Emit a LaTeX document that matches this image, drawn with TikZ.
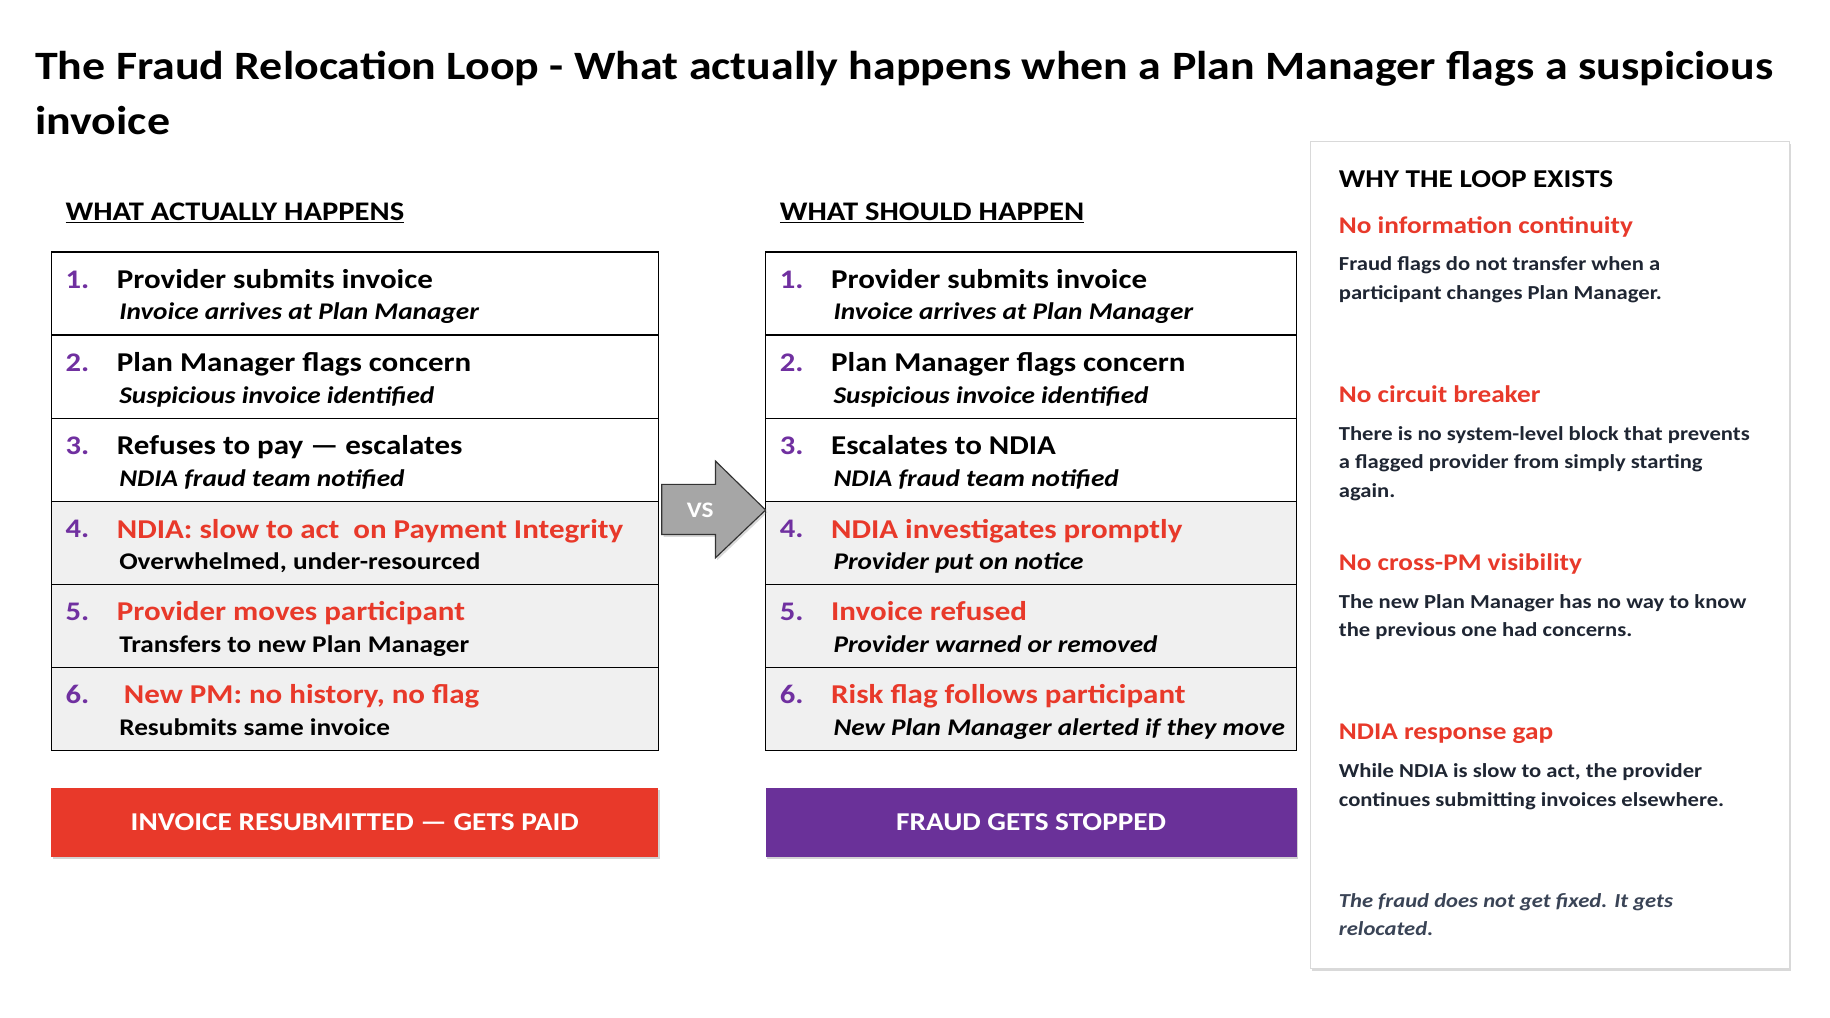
\documentclass[tikz,border=0pt]{standalone}
\usepackage{fontspec}
\setmainfont{Carlito}[FakeStretch=1.14]
\usetikzlibrary{shadows}
\definecolor{pnum}{HTML}{7030A0}
\definecolor{fred}{HTML}{E8392A}
\definecolor{fpur}{HTML}{6A3199}
\definecolor{rowg}{HTML}{F0F0F0}
\definecolor{dtext}{HTML}{1F2633}
\definecolor{itext}{HTML}{3A4456}
\begin{document}
\begin{tikzpicture}[x=1pt,y=-1pt,
  txt/.style={anchor=base west,inner sep=0pt,font=\bfseries},
  num/.style={txt,text=pnum,font=\bfseries\fontsize{23}{26}\selectfont},
  main/.style={txt,font=\bfseries\fontsize{23.3}{28}\selectfont},
  sub/.style={txt,font=\bfseries\itshape\fontsize{20.5}{24}\selectfont},
  subn/.style={txt,font=\bfseries\fontsize{20.5}{24}\selectfont},
  row/.style={draw=black,line width=1.2pt},
  hd/.style={txt,font=\bfseries\fontsize{23}{27}\selectfont},
  rh/.style={txt,text=fred,font=\bfseries\fontsize{20.5}{24}\selectfont},
  body/.style={txt,text=dtext,align=left,font=\bfseries\fontsize{17}{24.5}\selectfont,anchor=north west},
  bar/.style={draw=none,text=white,font=\bfseries\fontsize{22}{26}\selectfont,drop shadow={opacity=0.35,shadow xshift=1.5pt,shadow yshift=-2pt}}]
\useasboundingbox (0,0) rectangle (1568,872);
\node[txt,font=\bfseries\fontsize{34.5}{40}\selectfont] (t1) at (30,68) {The Fraud Relocation Loop - What actually happens when a Plan Manager flags a suspicious};
\node[txt,font=\bfseries\fontsize{34.5}{40}\selectfont] (t2) at (30,115) {invoice};
\node[hd] (h1) at (56,189) {\underline{WHAT ACTUALLY HAPPENS}};
\node[hd] (h2) at (668,189) {\underline{WHAT SHOULD HAPPEN}};
% tables
\foreach \xa/\xb in {44/564,656/1111}{
  \foreach \i in {0,...,5}{
    \pgfmathsetmacro\ya{216+71.2*\i}\pgfmathsetmacro\yb{216+71.2*(\i+1)}
    \ifnum\i>2 \fill[rowg] (\xa,\ya) rectangle (\xb,\yb);\fi
    \draw[row] (\xa,\ya) rectangle (\xb,\yb);
    \pgfmathtruncatemacro\n{\i+1}
    \pgfmathsetmacro\yn{247+71.2*\i}
    \node[num] (n\xa-\n) at (\xa+12,\yn) {\n.};
  }}
% left texts
\node[main] (l1) at (100,247) {Provider submits invoice};
\node[sub] (l1s) at (102,274) {Invoice arrives at Plan Manager};
\node[main] (l2) at (100,318) {Plan Manager flags concern};
\node[sub] (l2s) at (102,346) {Suspicious invoice identified};
\node[main] (l3) at (100,389) {Refuses to pay — escalates};
\node[sub] (l3s) at (102,417) {NDIA fraud team notified};
\node[main,text=fred] (l4) at (100,461) {NDIA: slow to act\ \ on Payment Integrity};
\node[subn] (l4s) at (102,488) {Overwhelmed, under-resourced};
\node[main,text=fred] (l5) at (100,532) {Provider moves participant};
\node[subn] (l5s) at (102,559) {Transfers to new Plan Manager};
\node[main,text=fred] (l6) at (106,603) {New PM: no history, no flag};
\node[subn] (l6s) at (102,630) {Resubmits same invoice};
% right texts
\node[main] (r1) at (712,247) {Provider submits invoice};
\node[sub] (r1s) at (714,274) {Invoice arrives at Plan Manager};
\node[main] (r2) at (712,318) {Plan Manager flags concern};
\node[sub] (r2s) at (714,346) {Suspicious invoice identified};
\node[main] (r3) at (712,389) {Escalates to NDIA};
\node[sub] (r3s) at (714,417) {NDIA fraud team notified};
\node[main,text=fred] (r4) at (712,461) {NDIA investigates promptly};
\node[sub] (r4s) at (714,488) {Provider put on notice};
\node[main,text=fred] (r5) at (712,532) {Invoice refused};
\node[sub] (r5s) at (714,559) {Provider warned or removed};
\node[main,text=fred] (r6) at (712,603) {Risk flag follows participant};
\node[sub] (r6s) at (714,630) {New Plan Manager alerted if they move};
% arrow
\draw[fill=black!35,draw=black!80,line width=1pt,drop shadow={opacity=0.3,shadow xshift=1.5pt,shadow yshift=-2pt}]
  (567,415) -- (613,415) -- (613,395) -- (656,437) -- (613,478) -- (613,458) -- (567,458) -- cycle;
\node[text=white,font=\bfseries\fontsize{19}{22}\selectfont] (vs) at (600,437) {VS};
% bars
\node[bar,fill=fred,minimum width=520pt,minimum height=59pt] (b1) at (304,704.5) {INVOICE RESUBMITTED — GETS PAID};
\node[bar,fill=fpur,minimum width=455pt,minimum height=59pt] (b2) at (883.5,704.5) {FRAUD GETS STOPPED};
% right panel
\draw[draw=black!15,fill=white,line width=1pt,drop shadow={opacity=0.3,shadow xshift=1.5pt,shadow yshift=-2pt}] (1123,121) rectangle (1533,830);
\node[txt,font=\bfseries\fontsize{22}{26}\selectfont] (w0) at (1147,161) {WHY THE LOOP EXISTS};
\node[rh] (w1) at (1147,200) {No information continuity};
\node[body] (w1b) at (1147,220) {Fraud flags do not transfer when a\\participant changes Plan Manager.};
\node[rh] (w2) at (1147,345) {No circuit breaker};
\node[body] (w2b) at (1147,365) {There is no system-level block that prevents\\a flagged provider from simply starting\\again.};
\node[rh] (w3) at (1147,489) {No cross-PM visibility};
\node[body] (w3b) at (1147,509) {The new Plan Manager has no way to know\\the previous one had concerns.};
\node[rh] (w4) at (1147,634) {NDIA response gap};
\node[body] (w4b) at (1147,654) {While NDIA is slow to act, the provider\\continues submitting invoices elsewhere.};
\node[body,text=itext,font=\bfseries\itshape\fontsize{17}{24.5}\selectfont] (w5) at (1147,765) {The fraud does not get fixed. It gets\\relocated.};
\end{tikzpicture}
\end{document}
